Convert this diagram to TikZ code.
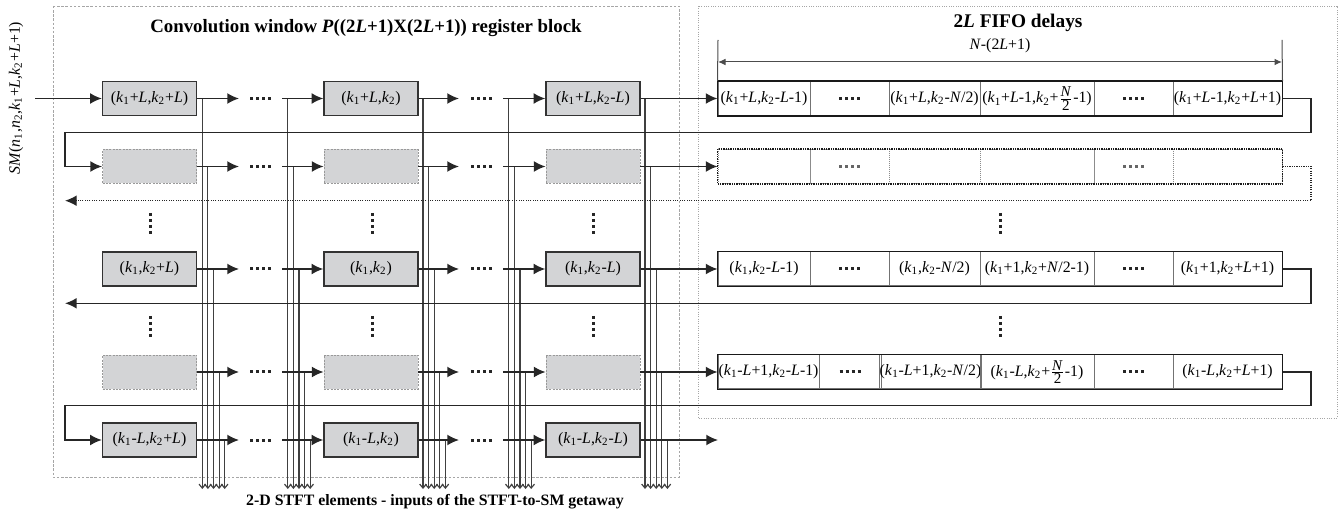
\documentclass[tikz,border=0pt]{standalone}
\usepackage{fontspec}
\setmainfont{Liberation Serif}
\usetikzlibrary{arrows.meta}
\definecolor{regfill}{RGB}{211,212,214}
\newcommand\Kx[1]{\textit{k}\textsubscript{#1}}
\newcommand\Lx{\textit{L}}
\newcommand\Nx{\textit{N}}
\newcommand\Nfrac{\ensuremath{\frac{\mbox{\fontsize{9}{9}\selectfont\textit{N}}}{\mbox{\fontsize{9}{9}\selectfont 2}}}}
\newcommand\lblfont{\fontsize{9.5}{11}\selectfont}
\begin{document}
\begin{tikzpicture}[x=0.6pt,y=-0.6pt,
  conn/.style={line width=0.9pt, black!85},
  arr/.style={conn, -{Latex[length=7pt,width=6.5pt]}},
  tap/.style={line width=0.7pt, black!75, -{Straight Barb[length=2.4pt,width=4pt]}},
  dotsh/.style={line width=1.8pt, dash pattern=on 1.8pt off 1.8pt, black!85},
  reg/.style={draw=black!80, line width=0.8pt, fill=regfill, minimum width=56.4pt, minimum height=20.4pt, inner sep=0pt, font=\lblfont},
  regd/.style={draw=black!40, dash pattern=on 1.2pt off 0.8pt, line width=0.5pt, fill=regfill, minimum width=56.4pt, minimum height=20.4pt, inner sep=0pt},
  cell/.style={draw=black!55, line width=0.6pt, minimum height=20.4pt, inner sep=0pt, font=\lblfont},
  dcell/.style={draw=black!45, line width=0.5pt, dash pattern=on 0.6pt off 0.6pt, minimum height=20.4pt, inner sep=0pt},
  dim/.style={line width=0.6pt, black!70},
  dtip/.style={{Latex[length=4.5pt,width=4pt]}-{Latex[length=4.5pt,width=4pt]}},
  ttl/.style={font=\bfseries\fontsize{11.3}{13}\selectfont},
]
\newcommand\Fcell[6][cell]{\node[#1,minimum width={(#3-#2)*0.6pt}] (#4) at ({(#2+#3)/2},#5) {#6};}
\useasboundingbox (0,0) rectangle (1342,513);

% frames
\draw[black!35, line width=0.5pt, dash pattern=on 1.5pt off 1pt] (53,6) rectangle (679,477);
\draw[black!35, line width=0.5pt, dash pattern=on 0.6pt off 0.8pt] (698,6) rectangle (1337,418);

% titles
\node[ttl] (t1) at (366,28) {Convolution window \textit{P}((2\textit{L}+1)X(2\textit{L}+1)) register block};
\node[font=\bfseries\fontsize{11.6}{13}\selectfont] (t2) at (1018,23) {2\textit{L} FIFO delays};
\node[font=\lblfont] (nl) at (1000,46) {\Nx-(2\Lx+1)};
\node[font=\bfseries\fontsize{9.5}{11}\selectfont] (bt) at (435,502) {2-D STFT elements - inputs of the STFT-to-SM getaway};
\node[rotate=90,font=\lblfont] (sm) at (16,98) {\textit{SM}(\textit{n}\textsubscript{1},\textit{n}\textsubscript{2},\Kx1+\Lx,\Kx2+\Lx+1)};

% taps (drawn first)
\foreach \r/\y in {1/98.5,2/166.5,3/269,4/372,5/440}{
  \foreach \g/\bx in {A/202.3,B/287.8,C/423,D/508.8,E/645}{
    \pgfmathsetmacro\tx{\bx+(\r-1)*5.6}
    \coordinate (t\g\r) at (\tx,\y);
    \coordinate (e\g\r) at (\tx,489);
    \draw[tap] (t\g\r) -- (e\g\r);
  }
}

% registers
\node[reg] (r11) at (149.5,98.5) {(\Kx1+\Lx,\Kx2+\Lx)};
\node[reg] (r12) at (371,98.5) {(\Kx1+\Lx,\Kx2)};
\node[reg] (r13) at (593,98.5) {(\Kx1+\Lx,\Kx2-\Lx)};
\node[regd] (r21) at (149.5,166.5) {};
\node[regd] (r22) at (371,166.5) {};
\node[regd] (r23) at (593,166.5) {};
\node[reg] (r31) at (149.5,269) {(\Kx1,\Kx2+\Lx)};
\node[reg] (r32) at (371,269) {(\Kx1,\Kx2)};
\node[reg] (r33) at (593,269) {(\Kx1,\Kx2-\Lx)};
\node[regd] (r41) at (149.5,372) {};
\node[regd] (r42) at (371,372) {};
\node[regd] (r43) at (593,372) {};
\node[reg] (r51) at (149.5,440) {(\Kx1-\Lx,\Kx2+\Lx)};
\node[reg] (r52) at (371,440) {(\Kx1-\Lx,\Kx2)};
\node[reg] (r53) at (593,440) {(\Kx1-\Lx,\Kx2-\Lx)};

% row connectors
\foreach \r/\y in {1/98.5,2/166.5,3/269,4/372,5/440}{
  \coordinate (a\r1) at (239,\y); \coordinate (b\r1) at (282,\y);
  \coordinate (a\r2) at (459,\y); \coordinate (b\r2) at (503,\y);
  \draw[arr] (r\r1.east) -- (a\r1);
  \draw[dotsh] (250,\y) -- (272,\y);
  \draw[arr] (b\r1) -- (r\r2.west);
  \draw[arr] (r\r2.east) -- (a\r2);
  \draw[dotsh] (471,\y) -- (493,\y);
  \draw[arr] (b\r2) -- (r\r3.west);
}

% FIFO row 1
\Fcell{718}{810}{f11}{98.5}{(\Kx1+\Lx,\Kx2-\Lx-1)}
\Fcell{810}{889}{f12}{98.5}{}
\Fcell{889}{980}{f13}{98.5}{(\Kx1+\Lx,\Kx2-\Nx/2)}
\Fcell{980}{1094}{f14}{98.5}{(\Kx1+\Lx-1,\Kx2+\Nfrac-1)}
\Fcell{1094}{1173}{f15}{98.5}{}
\Fcell{1173}{1282}{f16}{98.5}{(\Kx1+\Lx-1,\Kx2+\Lx+1)}
\draw[line width=1.1pt, black!90] (f11.north west) rectangle (f16.south east);
% FIFO row 2 (dotted)
\Fcell[dcell]{718}{810}{f21}{166.5}{}
\Fcell[dcell]{810}{889}{f22}{166.5}{}
\Fcell[dcell]{889}{980}{f23}{166.5}{}
\Fcell[dcell]{980}{1094}{f24}{166.5}{}
\Fcell[dcell]{1094}{1173}{f25}{166.5}{}
\Fcell[dcell]{1173}{1282}{f26}{166.5}{}
\draw[line width=0.9pt, black!90, dash pattern=on 0.7pt off 0.7pt] (f21.north west) rectangle (f26.south east);
% FIFO row 3
\Fcell{718}{810}{f31}{269}{(\Kx1,\Kx2-\Lx-1)}
\Fcell{810}{889}{f32}{269}{}
\Fcell{889}{980}{f33}{269}{(\Kx1,\Kx2-\Nx/2)}
\Fcell{980}{1094}{f34}{269}{(\Kx1+1,\Kx2+\Nx/2-1)}
\Fcell{1094}{1173}{f35}{269}{}
\Fcell{1173}{1282}{f36}{269}{(\Kx1+1,\Kx2+\Lx+1)}
\draw[line width=1.1pt, black!90] (f31.north west) rectangle (f36.south east);
% FIFO row 4
\Fcell{718}{819}{f41}{372}{(\Kx1-\Lx+1,\Kx2-\Lx-1)}
\Fcell{819}{881}{f42}{372}{}
\Fcell{881}{980}{f43}{372}{(\Kx1-\Lx+1,\Kx2-\Nx/2)}
\Fcell{980}{1094}{f44}{372}{(\Kx1-\Lx,\Kx2+\Nfrac-1)}
\Fcell{1094}{1173}{f45}{372}{}
\Fcell{1173}{1282}{f46}{372}{(\Kx1-\Lx,\Kx2+\Lx+1)}
\draw[line width=1.1pt, black!90] (f41.north west) rectangle (f46.south east);

% dots inside FIFO cells
\foreach \c in {f12,f15,f32,f35,f42,f45}{
  \draw[dotsh] ([xshift=-6.3pt]\c.center) -- ([xshift=6.9pt]\c.center);
}
\foreach \c in {f22,f25}{
  \draw[dotsh,black!60] ([xshift=-6.3pt]\c.center) -- ([xshift=6.9pt]\c.center);
}

% vertical dots
\foreach \x in {150,372,593,1000}{
  \draw[dotsh] (\x,213) -- (\x,234);
  \draw[dotsh] (\x,316) -- (\x,337);
}

% dimension
\coordinate (dL) at (718,40); \coordinate (dR) at (1282,40);
\coordinate (mL) at (718,62); \coordinate (mR) at (1282,62);
\draw[dim] (f11.north west) -- (dL);
\draw[dim] (f16.north east) -- (dR);
\draw[dim,dtip] (mL) -- (mR);

% input / outputs
\coordinate (inp) at (35,98.5);
\draw[arr] (inp) -- (r11.west);
\draw[arr] (r13.east) -- (f11.west);
\draw[arr] (r23.east) -- (f21.west);
\draw[arr] (r33.east) -- (f31.west);
\draw[arr] (r43.east) -- (f41.west);
\coordinate (out5) at (718,440);
\draw[arr] (r53.east) -- (out5);

% return loops
\coordinate (c1r) at (1311,132.3); \coordinate (c1l) at (65,132.3);
\draw[arr] (f16.east) -| (c1r) -- (c1l) |- (r21.west);
\coordinate (c2r) at (1311,200.7); \coordinate (c2l) at (65,200.7);
\draw[arr, line width=0.8pt, dash pattern=on 0.7pt off 0.7pt] (f26.east) -| (c2r) -- (c2l);
\coordinate (c3r) at (1311,303.3); \coordinate (c3l) at (65,303.3);
\draw[arr] (f36.east) -| (c3r) -- (c3l);
\coordinate (c4r) at (1311,405.7); \coordinate (c4l) at (65,405.7);
\draw[arr] (f46.east) -| (c4r) -- (c4l) |- (r51.west);
\end{tikzpicture}
\end{document}
